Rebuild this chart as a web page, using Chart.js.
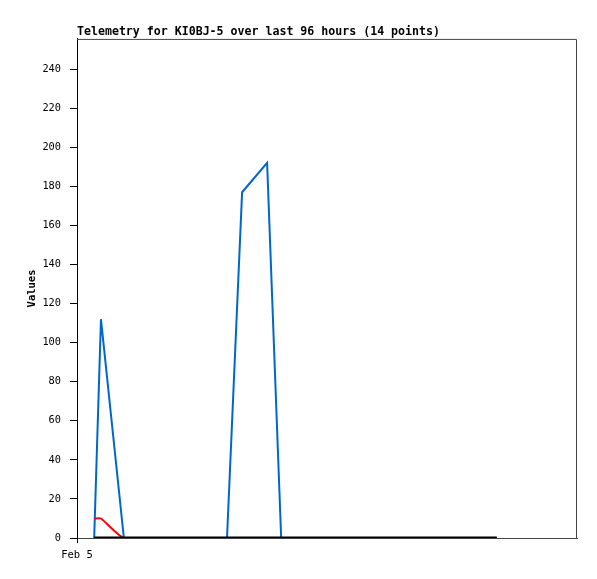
<!DOCTYPE html>
<html>
<head>
<meta charset="utf-8">
<script src="https://cdn.jsdelivr.net/npm/chart.js@4/dist/chart.umd.min.js"></script>
<style>
html,body{margin:0;padding:0;background:#fff;}
#wrap{width:597px;height:579px;position:relative;}
</style>
</head>
<body>
<div id="wrap"><canvas id="c" width="597" height="579"></canvas></div>
<script>
// Hours since start of Feb 5 (x axis spans 96 hours)
const hours = [3.3, 4.6, 9.0, 28.8, 31.7, 36.5, 39.2, 80.6];
const blueValues = [0, 112, 0, 0, 177, 192, 0, 0];
const redValues = [10, 10, 0, 0, 0, 0, 0, 0];
const blackValues = [0, 0, 0, 0, 0, 0, 0, 0];
const xTickLabels = ['Feb 5'];
const yTicks = [0, 20, 40, 60, 80, 100, 120, 140, 160, 180, 200, 220, 240];
const titleText = 'Telemetry for KI0BJ-5 over last 96 hours (14 points)';
const yAxisTitle = 'Values';

const toPts = vals => vals.map((v, i) => ({x: hours[i], y: v}));
const mono = "'DejaVu Sans Mono', 'Liberation Mono', monospace";

const framePlugin = {
  id: 'frame',
  beforeDatasetsDraw(chart) {
    const {ctx, chartArea: a} = chart;
    ctx.save();
    ctx.strokeStyle = '#444';
    ctx.lineWidth = 1;
    ctx.beginPath();
    ctx.moveTo(a.left, a.top + 0.5);
    ctx.lineTo(a.right - 0.5, a.top + 0.5);
    ctx.lineTo(a.right - 0.5, a.bottom);
    ctx.stroke();
    ctx.restore();
  }
};

new Chart(document.getElementById('c'), {
  type: 'line',
  data: {
    datasets: [
      {data: toPts(blackValues), borderColor: '#000', borderWidth: 3, pointRadius: 0, tension: 0, order: 0},
      {data: toPts(redValues), borderColor: '#ff0000', borderWidth: 2, pointRadius: 0, tension: 0.15, order: 1},
      {data: toPts(blueValues), borderColor: '#0066cc', borderWidth: 2, pointRadius: 0, tension: 0, order: 2}
    ]
  },
  plugins: [framePlugin],
  options: {
    responsive: false,
    animation: false,
    layout: {padding: {left: 0, right: 20, top: 0, bottom: 0}},
    plugins: {
      legend: {display: false},
      tooltip: {enabled: false},
      title: {
        display: true,
        text: titleText,
        align: 'start',
        fullSize: false,
        color: '#000',
        font: {family: mono, size: 11.6, weight: 'bold', lineHeight: 1.2},
        padding: {top: 25, bottom: 0}
      }
    },
    scales: {
      x: {
        type: 'linear',
        min: 0,
        max: 96,
        afterBuildTicks: s => { s.ticks = [{value: 0}]; },
        afterFit: s => { s.height = 41; },
        ticks: {
          color: '#000',
          font: {family: mono, size: 10.5},
          padding: 6,
          maxRotation: 0,
          autoSkip: false,
          callback: (v) => v === 0 ? xTickLabels[0] : ''
        },
        grid: {display: true, drawOnChartArea: false, drawTicks: true, tickLength: 5, color: '#000'},
        border: {display: true, color: '#444', width: 1}
      },
      y: {
        type: 'linear',
        min: 0,
        max: 255.5,
        afterBuildTicks: s => { s.ticks = yTicks.map(v => ({value: v})); },
        afterFit: s => { s.width = 77; },
        ticks: {
          color: '#000',
          font: {family: mono, size: 10.3},
          padding: 9,
          autoSkip: false
        },
        grid: {display: true, drawOnChartArea: false, drawTicks: true, tickLength: 7, color: '#000'},
        border: {display: true, color: '#000', width: 1},
        title: {
          display: true,
          text: yAxisTitle,
          color: '#000',
          font: {family: mono, size: 10.5, weight: 'bold', lineHeight: 1.2},
          padding: {top: 26, bottom: 0}
        }
      }
    }
  }
});
</script>
</body>
</html>
